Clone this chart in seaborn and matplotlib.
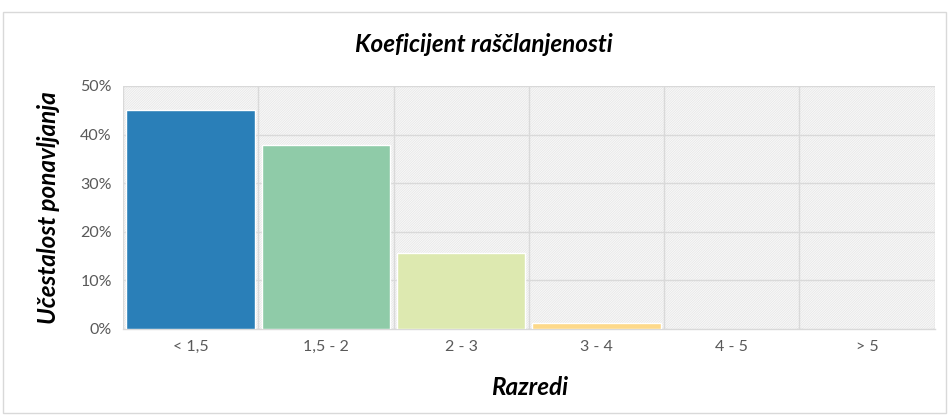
import matplotlib
matplotlib.use("Agg")
import matplotlib.pyplot as plt
import matplotlib.patches as mpatches
from matplotlib.ticker import PercentFormatter, MultipleLocator, FixedLocator
import seaborn as sns
import pandas as pd

# ─── DATA ───────────────────────────────────────────────────────
categories = ["< 1,5", "1,5 - 2", "2 - 3", "3 - 4", "4 - 5", "> 5"]
shares = [0.450, 0.379, 0.156, 0.012, 0.0, 0.0]
colors = ["#2A7FB8", "#8FCBA8", "#DDE9B0", "#FDD98A", "#F9B37A", "#E8705A"]
title = "Koeficijent raščlanjenosti"
xlabel = "Razredi"
ylabel = "Učestalost ponavljanja"
# ────────────────────────────────────────────────────────────────

df = pd.DataFrame({"cat": categories, "share": shares})

sns.set_style("white")
plt.rcParams["font.family"] = ["Lato", "DejaVu Sans"]
plt.rcParams["hatch.linewidth"] = 0.4

fig = plt.figure(figsize=(9.49, 4.2), dpi=100)
ax = fig.add_axes([0.1296, 0.2167, 0.8554, 0.5786])

# finely hatched plot background
ax.patch.set_facecolor("#f8f8f8")
ax.patch.set_edgecolor("#e2e2e2")
ax.patch.set_hatch("/" * 14)
ax.patch.set_linewidth(0)

sns.barplot(data=df, x="cat", y="share", hue="cat", palette=colors,
            legend=False, width=0.95, saturation=1, ax=ax, zorder=3)

ax.set_ylim(0, 0.5)
ax.set_xlim(-0.5, len(categories) - 0.5)
ax.yaxis.set_major_locator(MultipleLocator(0.1))
ax.yaxis.set_major_formatter(PercentFormatter(1.0, decimals=0))
ax.xaxis.set_minor_locator(FixedLocator([i + 0.5 for i in range(-1, len(categories))]))
ax.grid(axis="y", which="major", color="#d9d9d9", linewidth=1, zorder=1)
ax.grid(axis="x", which="minor", color="#d9d9d9", linewidth=1, zorder=1)
ax.set_axisbelow(True)

for s in ["top", "right", "left"]:
    ax.spines[s].set_visible(False)
ax.spines["bottom"].set_color("#d9d9d9")
ax.spines["bottom"].set_linewidth(1)

ax.tick_params(axis="both", which="both", length=0, colors="#595959", labelsize=11.5, pad=8)
ax.set_xlabel("")
ax.set_ylabel("")

fig.text(0.51, 0.893, title, ha="center", va="center", fontsize=17.5,
         fontweight="bold", fontstyle="italic", color="black")
fig.text(0.558, 0.078, xlabel, ha="center", va="center", fontsize=17.5,
         fontweight="bold", fontstyle="italic", color="black")
fig.text(0.051, 0.505, ylabel, ha="center", va="center", rotation=90, fontsize=17.5,
         fontweight="bold", fontstyle="italic", color="black")

# outer chart frame
fig.patches.append(mpatches.Rectangle((0.003, 0.017), 0.994, 0.955, transform=fig.transFigure,
                                      fill=False, edgecolor="#d9d9d9", linewidth=1))

fig.savefig("out.png", dpi=100)
